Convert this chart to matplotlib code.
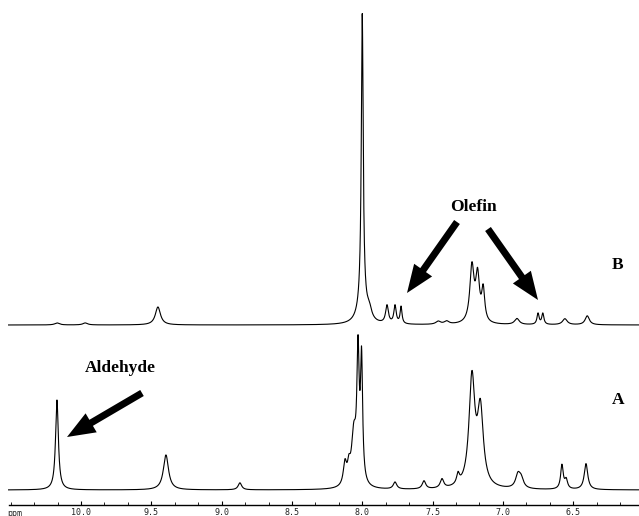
import numpy as np
import matplotlib
matplotlib.use("Agg")
import matplotlib.pyplot as plt
from matplotlib.ticker import MultipleLocator

# peak tables: shift (ppm), height, half width (ppm)
b_shift = [10.17, 9.97, 9.453, 8.000, 8.000, 7.950, 7.824, 7.767, 7.724,
           7.46, 7.40, 7.220, 7.180, 7.140, 6.90, 6.750, 6.716, 6.559, 6.40]
b_height = [2, 2, 18, 290, 20, 10, 18, 18, 17,
            3, 3, 56, 45, 32, 6, 11, 11, 6, 9]
b_width = [0.02, 0.02, 0.022, 0.008, 0.035, 0.02, 0.012, 0.010, 0.008,
           0.02, 0.02, 0.018, 0.016, 0.013, 0.02, 0.009, 0.009, 0.02, 0.018]

a_shift = [10.171, 9.396, 8.870, 8.123, 8.095, 8.060, 8.030, 8.005,
           7.767, 7.561, 7.433, 7.319, 7.220, 7.160, 6.893, 6.870,
           6.580, 6.550, 6.409]
a_height = [90, 35, 7, 22, 15, 50, 125, 120,
            7, 8, 9, 10, 108, 75, 13, 9,
            24, 9, 26]
a_width = [0.012, 0.022, 0.015, 0.014, 0.012, 0.02, 0.010, 0.009,
           0.015, 0.015, 0.015, 0.012, 0.025, 0.025, 0.02, 0.02,
           0.011, 0.012, 0.015]

b_base = 325   # baseline row of trace B (pixels from top)
a_base = 490   # baseline row of trace A

tick_ppm = [10.0, 9.5, 9.0, 8.5, 8.0, 7.5, 7.0, 6.5]
tick_text = ["10.0", "9.5", "9.0", "8.5", "8.0", "7.5", "7.0", "6.5"]


def spectrum(x, shifts, heights, widths):
    y = np.zeros_like(x)
    for c, h, w in zip(shifts, heights, widths):
        y += h * w**2 / ((x - c)**2 + w**2)
    return y


fig = plt.figure(figsize=(6.39, 5.16), dpi=100)
ax = fig.add_axes([0, 0, 1, 1])
ppm = np.linspace(10.515, 6.035, 6000)

ax.plot(ppm, b_base - spectrum(ppm, b_shift, b_height, b_width),
        color="black", lw=0.8)
ax.plot(ppm, a_base - spectrum(ppm, a_shift, a_height, a_width),
        color="black", lw=0.8)

ax.set_xlim(10.576, 6.032)
ax.set_ylim(516, 0)
for s in ["top", "left", "right"]:
    ax.spines[s].set_visible(False)
ax.spines["bottom"].set_position(("data", 505))
ax.spines["bottom"].set_bounds(10.515, 6.035)
ax.spines["bottom"].set_linewidth(1.0)
ax.set_yticks([])
ax.set_xticks(tick_ppm)
ax.set_xticklabels(tick_text, family="DejaVu Sans Mono", fontsize=6,
                   color="#222222")
ax.xaxis.set_minor_locator(MultipleLocator(0.5 / 3))
ax.tick_params(axis="x", which="major", direction="in", length=3, width=0.8,
               pad=2)
ax.tick_params(axis="x", which="minor", direction="in", length=2, width=0.6)
ax.text(10.47, 513, "ppm", family="DejaVu Sans Mono", fontsize=6,
        color="#222222", ha="center", va="center")

# overlay in pixel units for the labels and arrows
ov = fig.add_axes([0, 0, 1, 1])
ov.set_xlim(0, 639)
ov.set_ylim(516, 0)
ov.axis("off")
ov.patch.set_alpha(0)

font = dict(family="Liberation Serif", weight="bold", fontsize=12.5,
            color="black", ha="center", va="center")
ov.text(120, 368, "Aldehyde", **font)
ov.text(473, 207, "Olefin", **font)
ov.text(618, 265, "B", **font)
ov.text(618, 400, "A", **font)

arrows = [((142, 393), (67, 437)),
          ((457, 222), (407, 293)),
          ((488, 229), (538, 300))]
for (x0, y0), (x1, y1) in arrows:
    ov.arrow(x0, y0, x1 - x0, y1 - y0, width=7, head_width=22,
             head_length=28, length_includes_head=True, color="black", lw=0)

fig.savefig("out.png", dpi=100)
